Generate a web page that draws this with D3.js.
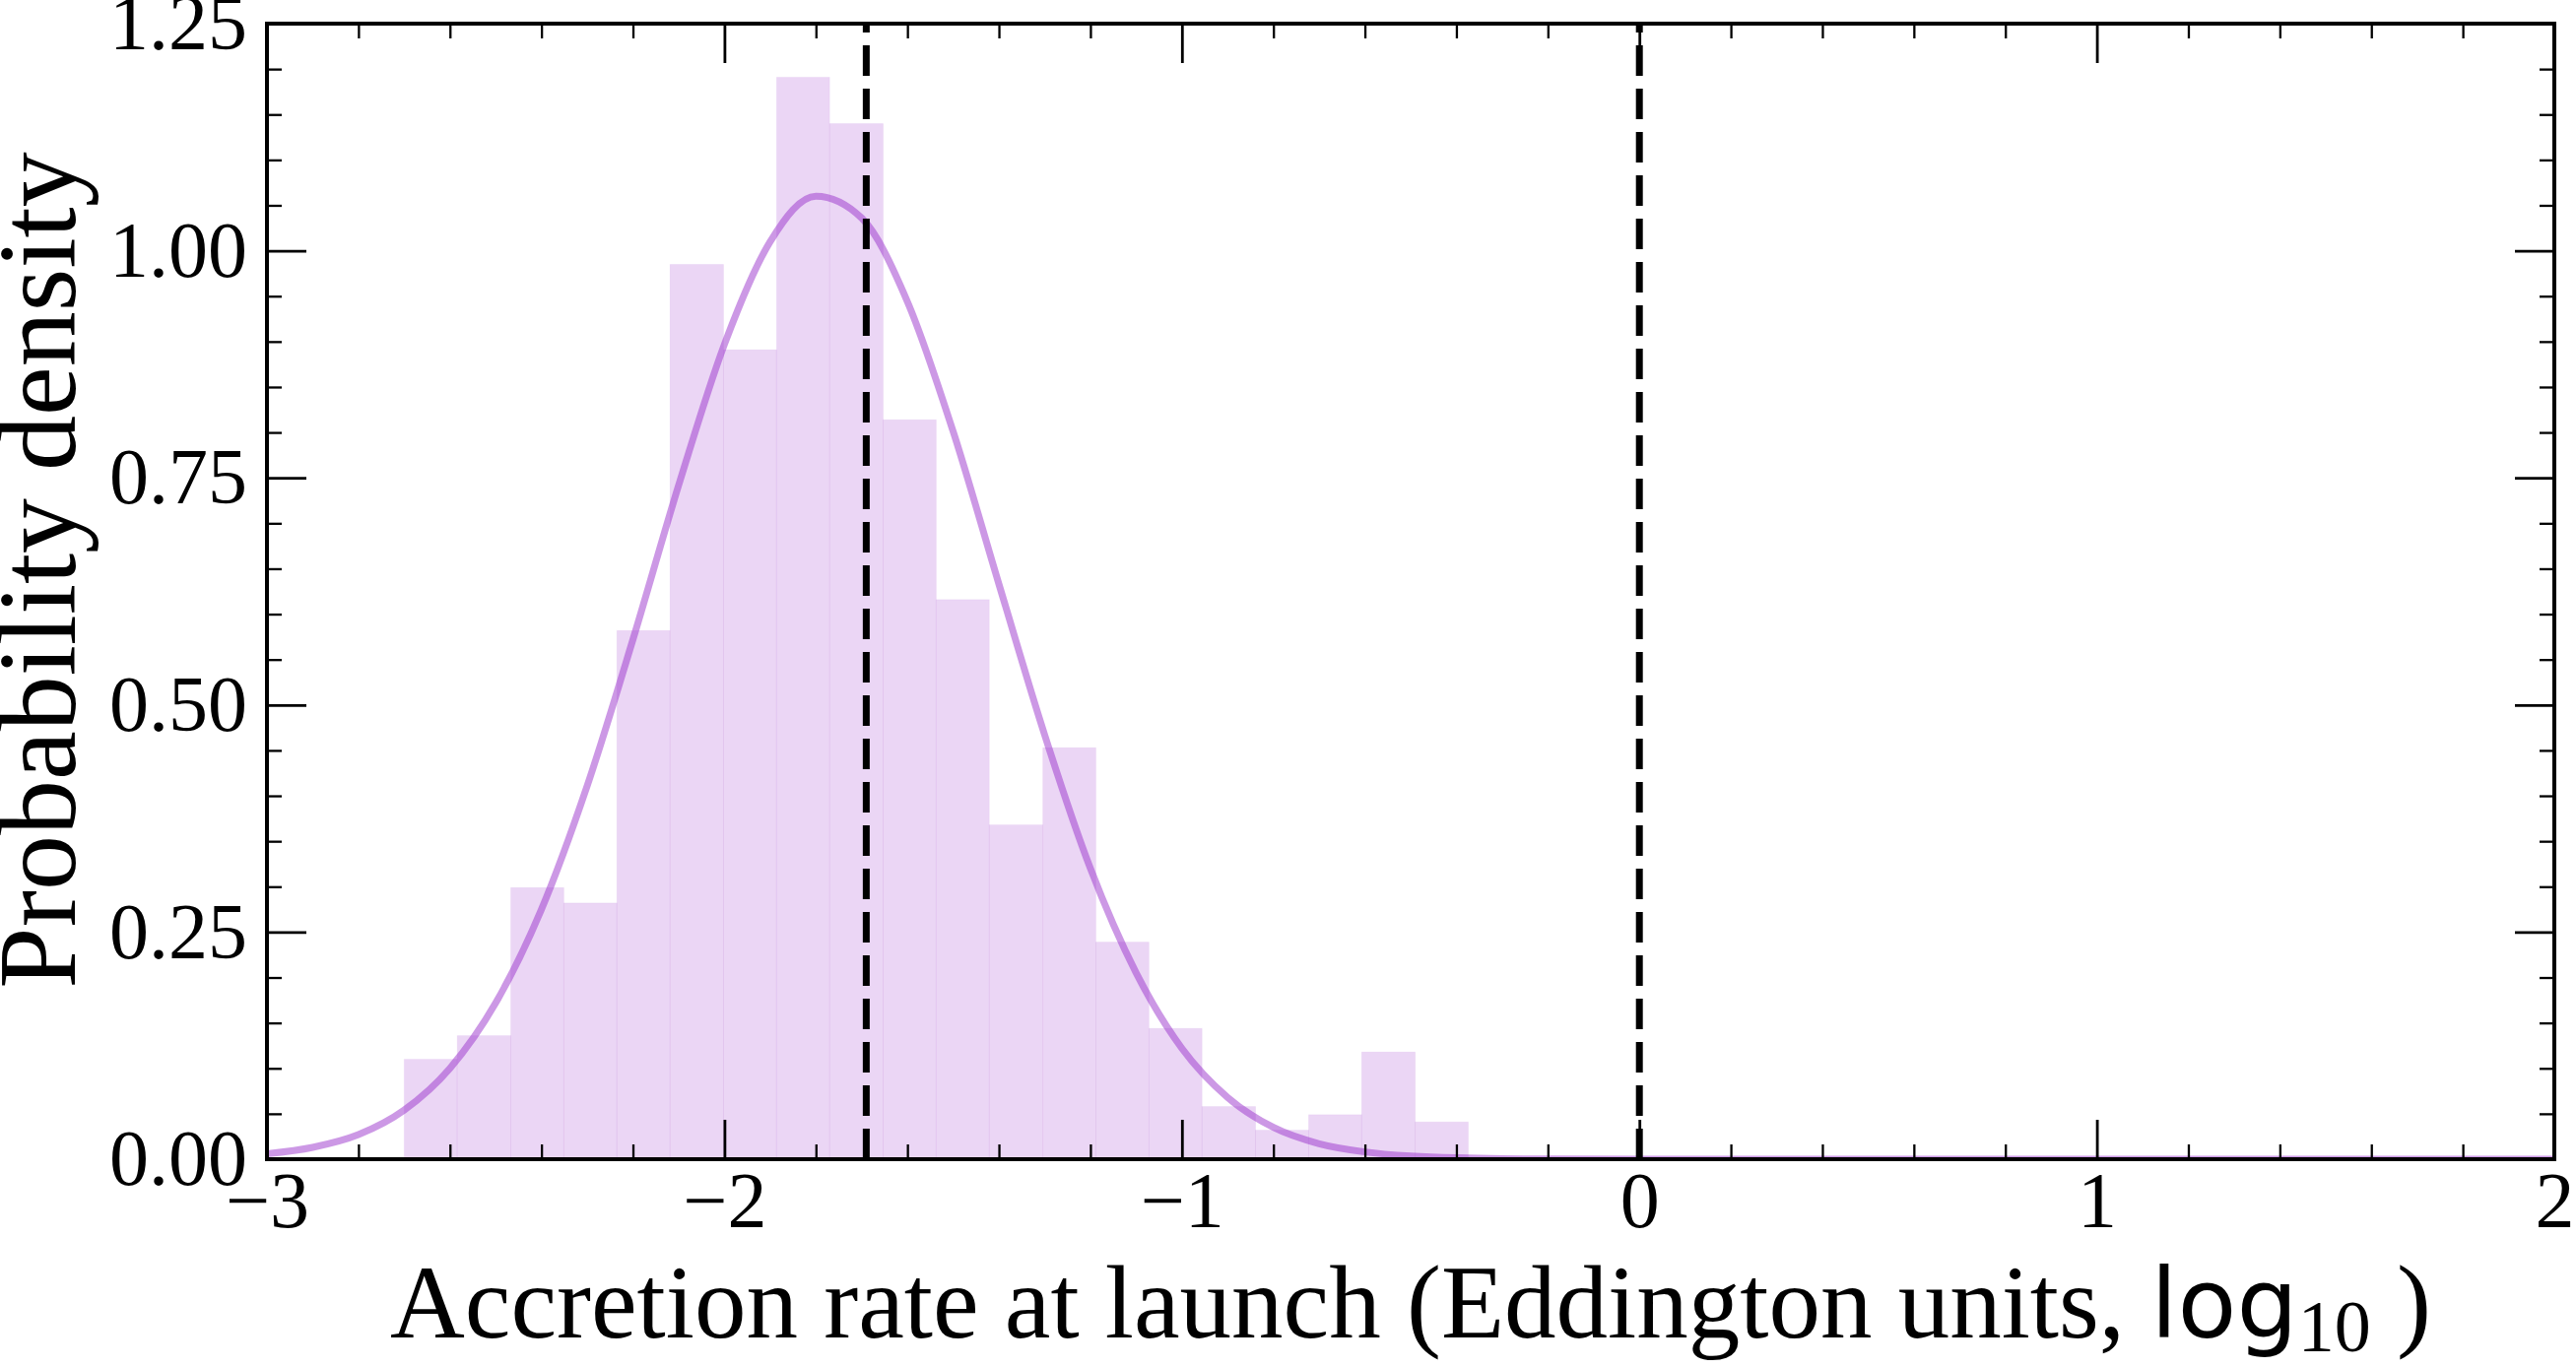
<!DOCTYPE html>
<html>
<head>
<meta charset="utf-8">
<script src="https://cdn.jsdelivr.net/npm/d3@7"></script>
<style>
    body { margin: 0; background: #fff; }
    .chart text { font-family: "Liberation Serif", "DejaVu Serif", serif; }
</style>
</head>
<body>
<div class="chart"></div>
<script>
// histogram of launch accretion rates (log10 Eddington units)
const binEdges = [-2.700, -2.584, -2.467, -2.351, -2.235, -2.119, -2.002, -1.886, -1.770, -1.653,
    -1.537, -1.421, -1.304, -1.188, -1.072, -0.956, -0.839, -0.723, -0.607, -0.490, -0.374];
const binDensity = [0.110, 0.136, 0.299, 0.282, 0.582, 0.985, 0.891, 1.191, 1.140, 0.814,
    0.616, 0.368, 0.453, 0.239, 0.144, 0.058, 0.032, 0.049, 0.118, 0.041];

// fitted curve
const curveX = [-3.0, -2.9, -2.8, -2.7, -2.6, -2.5, -2.4, -2.3, -2.2, -2.1, -2.0, -1.9, -1.8,
    -1.7, -1.6, -1.5, -1.4, -1.3, -1.2, -1.1, -1.0, -0.9, -0.8, -0.7, -0.6, -0.5, -0.4,
    -0.2, 0.0, 0.5, 1.0, 1.5, 2.0];
const curveY = [0.006, 0.013, 0.027, 0.054, 0.100, 0.172, 0.275, 0.411, 0.572, 0.742, 0.897,
    1.010, 1.060, 1.036, 0.944, 0.801, 0.633, 0.467, 0.320, 0.205, 0.122, 0.068, 0.035,
    0.017, 0.008, 0.0035, 0.0015, 0.0003, 0.0001, 0, 0, 0, 0];

const markerLines = [-1.69, 0];
const xTicks = [-3, -2, -1, 0, 1, 2];
const yTicks = [0, 0.25, 0.5, 0.75, 1.0, 1.25];
const xLabel = "Accretion rate at launch (Eddington units, ";
const yLabel = "Probability density";

document.addEventListener("DOMContentLoaded", function () {

    const w = 2615,
        h = 1388,
        left = 271,
        right = 2593,
        top = 24,
        bottom = 1177,
        color = "#9932CC";

    const svg = d3.select(".chart")
        .append("svg")
        .attr("width", w)
        .attr("height", h)
        .style("display", "block");

    const xScale = d3.scaleLinear()
        .domain([-3, 2])
        .range([left, right]);

    const yScale = d3.scaleLinear()
        .domain([0, 1.25])
        .range([bottom, top]);

    svg.append("clipPath")
        .attr("id", "plot-clip")
        .append("rect")
        .attr("x", left)
        .attr("y", top)
        .attr("width", right - left)
        .attr("height", bottom - top);

    const bins = binDensity.map((d, i) => ({x0: binEdges[i], x1: binEdges[i + 1], y: d}));

    svg.append("g")
        .selectAll("rect")
        .data(bins)
        .enter()
        .append("rect")
        .attr("class", "bar")
        .attr("x", d => xScale(d.x0))
        .attr("y", d => yScale(d.y))
        .attr("width", d => xScale(d.x1) - xScale(d.x0))
        .attr("height", d => bottom - yScale(d.y))
        .attr("fill", color)
        .attr("fill-opacity", 0.2)
        .attr("stroke", color)
        .attr("stroke-opacity", 0.05)
        .attr("stroke-width", 1);

    const line = d3.line()
        .x(d => xScale(d[0]))
        .y(d => yScale(d[1]))
        .curve(d3.curveMonotoneX);

    svg.append("path")
        .datum(curveX.map((x, i) => [x, curveY[i]]))
        .attr("clip-path", "url(#plot-clip)")
        .attr("d", line)
        .attr("fill", "none")
        .attr("stroke", color)
        .attr("stroke-opacity", 0.5)
        .attr("stroke-width", 7);

    svg.append("g")
        .selectAll("line")
        .data(markerLines)
        .enter()
        .append("line")
        .attr("x1", d => xScale(d))
        .attr("x2", d => xScale(d))
        .attr("y1", bottom)
        .attr("y2", top)
        .attr("stroke", "#000")
        .attr("stroke-width", 7)
        .attr("stroke-dasharray", "31,13");

    // inward ticks on all four sides
    const xMinor = d3.range(-3, 2.001, 0.2).filter(v => Math.abs(v - Math.round(v)) > 1e-6);
    const yMinor = d3.range(0, 1.2501, 0.05).filter(v => Math.abs(v * 4 - Math.round(v * 4)) > 1e-6);
    const major = 40, minor = 15;

    function style(g, width) {
        g.select(".domain").remove();
        g.selectAll(".tick line").attr("stroke", "#000").attr("stroke-width", width);
        g.selectAll("text")
            .attr("fill", "#000")
            .attr("font-size", 80)
            .attr("font-family", "'Liberation Serif', 'DejaVu Serif', serif");
    }

    svg.append("g")
        .attr("id", "x-axis")
        .attr("transform", "translate(0," + bottom + ")")
        .call(d3.axisBottom(xScale).tickValues(xTicks).tickSize(-major).tickPadding(12).tickFormat(d3.format("")))
        .call(g => style(g, 2.8));
    svg.append("g")
        .attr("transform", "translate(0," + bottom + ")")
        .call(d3.axisBottom(xScale).tickValues(xMinor).tickSize(-minor).tickFormat(""))
        .call(g => style(g, 2.3));
    svg.append("g")
        .attr("transform", "translate(0," + top + ")")
        .call(d3.axisTop(xScale).tickValues(xTicks).tickSize(-major).tickFormat(""))
        .call(g => style(g, 2.8));
    svg.append("g")
        .attr("transform", "translate(0," + top + ")")
        .call(d3.axisTop(xScale).tickValues(xMinor).tickSize(-minor).tickFormat(""))
        .call(g => style(g, 2.3));

    svg.append("g")
        .attr("id", "y-axis")
        .attr("transform", "translate(" + left + ",0)")
        .call(d3.axisLeft(yScale).tickValues(yTicks).tickSize(-major).tickPadding(20).tickFormat(d3.format(".2f")))
        .call(g => style(g, 2.8));
    svg.append("g")
        .attr("transform", "translate(" + left + ",0)")
        .call(d3.axisLeft(yScale).tickValues(yMinor).tickSize(-minor).tickFormat(""))
        .call(g => style(g, 2.3));
    svg.append("g")
        .attr("transform", "translate(" + right + ",0)")
        .call(d3.axisRight(yScale).tickValues(yTicks).tickSize(-major).tickFormat(""))
        .call(g => style(g, 2.8));
    svg.append("g")
        .attr("transform", "translate(" + right + ",0)")
        .call(d3.axisRight(yScale).tickValues(yMinor).tickSize(-minor).tickFormat(""))
        .call(g => style(g, 2.3));

    svg.append("rect")
        .attr("x", left)
        .attr("y", top)
        .attr("width", right - left)
        .attr("height", bottom - top)
        .attr("fill", "none")
        .attr("stroke", "#000")
        .attr("stroke-width", 4);

    const xl = svg.append("text")
        .attr("x", (left + right) / 2)
        .attr("y", 1358)
        .attr("text-anchor", "middle")
        .attr("font-size", 105)
        .attr("fill", "#000");
    xl.append("tspan").text(xLabel);
    xl.append("tspan")
        .attr("font-family", "'DejaVu Sans', sans-serif")
        .attr("font-size", 98)
        .text("log");
    xl.append("tspan")
        .attr("font-size", 74)
        .attr("dy", 14)
        .text("10");
    xl.append("tspan")
        .attr("dy", -14)
        .text(" )");

    svg.append("text")
        .attr("transform", "rotate(-90)")
        .attr("x", -579)
        .attr("y", 76)
        .attr("text-anchor", "middle")
        .attr("font-size", 112)
        .attr("fill", "#000")
        .text(yLabel);
});
</script>
</body>
</html>
